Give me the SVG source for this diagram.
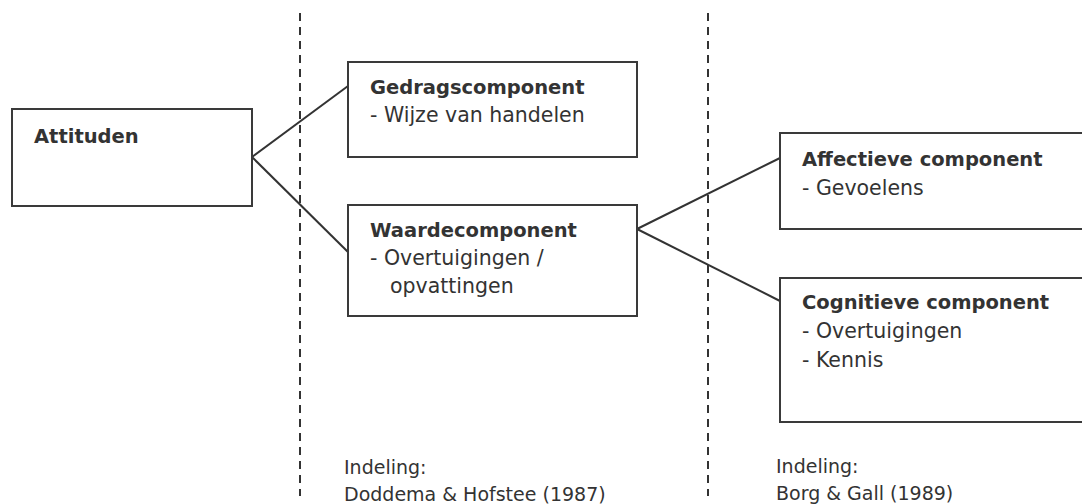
<svg xmlns="http://www.w3.org/2000/svg" width="1082" height="504" viewBox="0 0 1082 504">
<style>
.box{fill:#fff;stroke:#3a3a3a;stroke-width:2}
.con{stroke:#333;stroke-width:2;fill:none}
.dash{stroke:#333;stroke-width:2;stroke-dasharray:8 6;fill:none}
text{font-family:"DejaVu Sans","Liberation Sans",sans-serif;fill:#333;font-size:20.5px}
.b{font-weight:bold;font-size:19.5px}
.s{font-size:19px}
</style>
<rect width="1082" height="504" fill="#fff"/>
<g id="dividers">
<line class="dash" x1="300" y1="13" x2="300" y2="496"/>
<line class="dash" x1="708" y1="13" x2="708" y2="496"/>
</g>
<g id="connectors">
<line class="con" x1="252" y1="157" x2="348" y2="86"/>
<line class="con" x1="252" y1="157" x2="348" y2="252"/>
<line class="con" x1="637" y1="229" x2="780" y2="158"/>
<line class="con" x1="637" y1="229" x2="780" y2="301"/>
</g>
<g id="attituden">
<rect class="box" x="12" y="109" width="240" height="97"/>
<text class="b" x="34" y="143">Attituden</text>
</g>
<g id="gedragscomponent">
<rect class="box" x="348" y="62" width="289" height="95"/>
<text class="b" x="370" y="94">Gedragscomponent</text>
<text x="370" y="122">- Wijze van handelen</text>
</g>
<g id="waardecomponent">
<rect class="box" x="348" y="205" width="289" height="111"/>
<text class="b" x="370" y="237">Waardecomponent</text>
<text x="370" y="265">- Overtuigingen /</text>
<text x="390" y="293">opvattingen</text>
</g>
<g id="affectieve">
<rect class="box" x="780" y="133" width="320" height="96"/>
<text class="b" x="802" y="166">Affectieve component</text>
<text x="802" y="195">- Gevoelens</text>
</g>
<g id="cognitieve">
<rect class="box" x="780" y="278" width="320" height="144"/>
<text class="b" x="802" y="309">Cognitieve component</text>
<text x="802" y="338">- Overtuigingen</text>
<text x="802" y="367">- Kennis</text>
</g>
<g id="indeling-links">
<text class="s" x="344" y="474">Indeling:</text>
<text class="s" x="344" y="501">Doddema &amp; Hofstee (1987)</text>
</g>
<g id="indeling-rechts">
<text class="s" x="776" y="473">Indeling:</text>
<text class="s" x="776" y="500">Borg &amp; Gall (1989)</text>
</g>
</svg>
